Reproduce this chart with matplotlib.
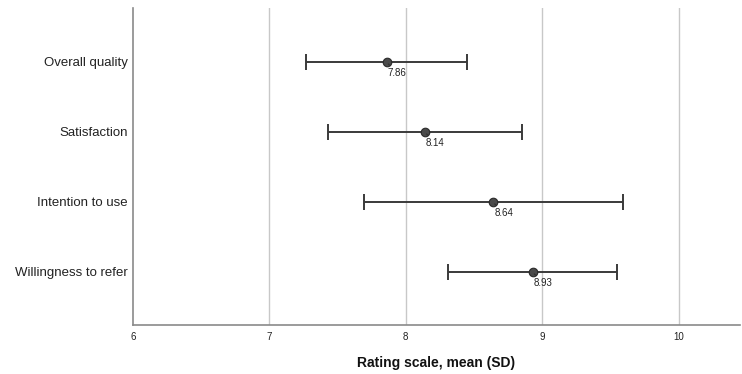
import matplotlib
matplotlib.use("Agg")
import matplotlib.pyplot as plt

categories = ["Overall quality", "Satisfaction", "Intention to use", "Willingness to refer"]
means = [7.86, 8.14, 8.64, 8.93]
sds = [0.59, 0.71, 0.95, 0.62]
xticks = [6, 7, 8, 9, 10]

plt.rcParams['font.family'] = ['Liberation Sans', 'DejaVu Sans']

fig = plt.figure(figsize=(7.42, 3.74), dpi=100)
ax = fig.add_axes([133/742, 1-325/374, (740-133)/742, (325-8)/374])

ypos = list(range(len(categories)))
for xv in xticks[1:]:
    ax.axvline(xv, color='#c8c8c8', lw=1.0, zorder=0)

ax.errorbar(means, ypos, xerr=sds, fmt='none', ecolor='#3a3a3a', elinewidth=1.4,
            capsize=6, capthick=1.4, zorder=2)
ax.scatter(means, ypos, s=38, color='#4a4a4a', edgecolor='#2a2a2a', linewidth=0.8, zorder=3)

for m, y in zip(means, ypos):
    ax.annotate(f"{m:.2f}", xy=(m + 0.012, y + 0.03), xytext=(m + 0.077, y + 0.16),
                fontsize=7, ha='center', va='center', color='#222222', zorder=4,
                arrowprops=dict(arrowstyle='-', color='#333333', lw=0.9,
                                shrinkA=0, shrinkB=0))

ax.set_yticks(ypos)
ax.set_yticklabels(categories, fontsize=9.5, color='#222222')
ax.set_ylim(3.76, -0.77)
ax.set_xlim(6, 10.45)
ax.set_xticks(xticks)
ax.set_xticklabels([str(t) for t in xticks], fontsize=7, color='#222222')
ax.tick_params(axis='both', length=0)
ax.tick_params(axis='x', pad=5)
ax.tick_params(axis='y', pad=4)
for s in ['top', 'right']:
    ax.spines[s].set_visible(False)
for s in ['left', 'bottom']:
    ax.spines[s].set_color('#8a8a8a')
    ax.spines[s].set_linewidth(1.2)
ax.set_xlabel("Rating scale, mean (SD)", fontsize=10, fontweight='bold', labelpad=10, color='#111111')

fig.savefig("out.png", dpi=100)
